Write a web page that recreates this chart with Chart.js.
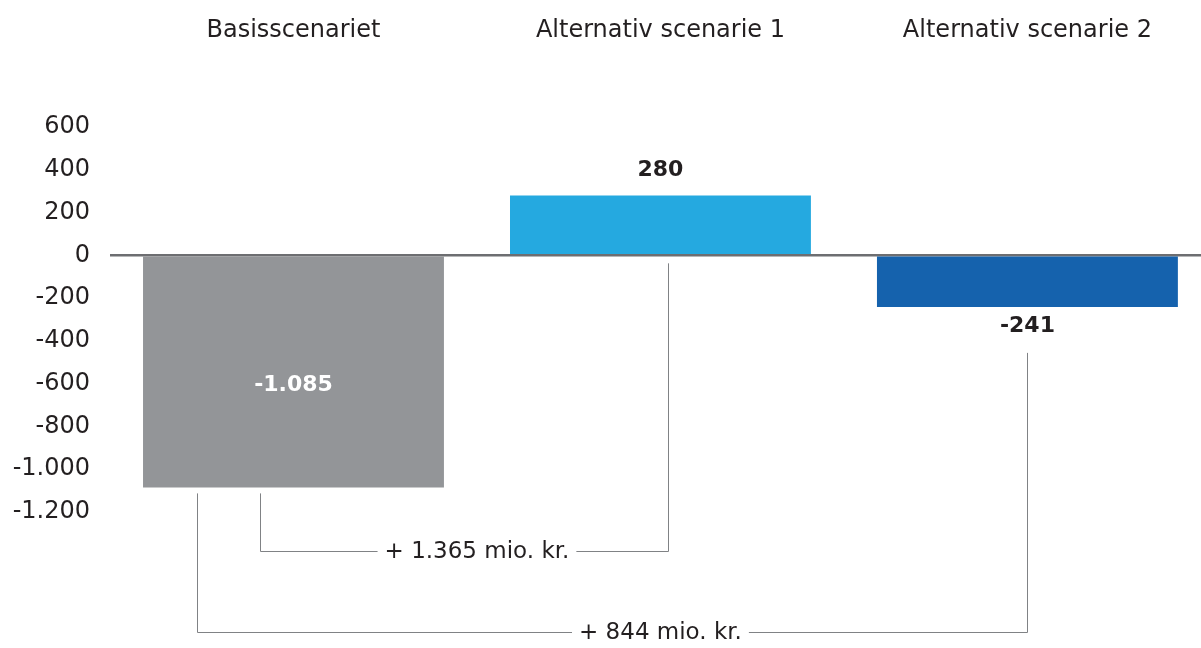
<!DOCTYPE html>
<html>
<head>
<meta charset="utf-8">
<script src="https://cdn.jsdelivr.net/npm/chart.js@4/dist/chart.umd.min.js"></script>
<style>
  html, body { margin: 0; padding: 0; background: #ffffff; overflow: hidden; }
  canvas { display: block; }
</style>
</head>
<body>
<canvas id="chart" width="1201" height="648"></canvas>
<script>
// Scenarios and their effect (mio. kr.)
const scenarios = ['Basisscenariet', 'Alternativ scenarie 1', 'Alternativ scenarie 2'];
const effects = [-1085, 280, -241];
const barColors = ['#939598', '#25a9e0', '#1562ad'];

// Y axis ticks
const yMin = -1200;
const yMax = 600;
const yStep = 200;

// Differences between scenarios shown as brackets under the bars
const bracketFrom = [0, 0];
const bracketTo = [1, 2];
const bracketValues = [1365, 844];

const TEXT = '#231f20';
const LINE = '#808285';

// Danish thousands separator
function fmt(v) {
  const s = Math.abs(v).toString().replace(/\B(?=(\d{3})+(?!\d))/g, '.');
  return (v < 0 ? '-' : '') + s;
}

// one point per scenario, placed at its index on a numeric x axis
const points = effects.map((v, i) => ({ x: i, y: v }));

const annotations = {
  id: 'annotations',
  afterDraw(chart) {
    const ctx = chart.ctx;
    const bars = chart.getDatasetMeta(0).data;
    const area = chart.chartArea;
    const zeroY = chart.scales.y.getPixelForValue(0);
    ctx.save();

    // value labels
    ctx.font = 'bold 22px "DejaVu Sans"';
    ctx.textAlign = 'center';
    ctx.textBaseline = 'middle';
    const labelBottom = [];
    bars.forEach((bar, i) => {
      const v = effects[i];
      const h = Math.abs(bar.base - bar.y);
      let ty, col = TEXT;
      if (h > 120) {
        ty = (bar.y + bar.base) / 2 + 13;
        col = '#ffffff';
      } else if (v >= 0) {
        ty = bar.y - 25;
      } else {
        ty = bar.y + 19;
      }
      labelBottom[i] = ty + 11;
      ctx.fillStyle = col;
      ctx.fillText(fmt(v), bar.x, ty);
    });

    // difference brackets
    const leftShift = [-33, -96];
    const rightShift = [8, 0];
    const levelY = [area.bottom + 39, area.bottom + 120];
    ctx.font = '23px "DejaVu Sans"';
    ctx.strokeStyle = LINE;
    ctx.lineWidth = 1;
    bracketValues.forEach((val, k) => {
      const a = bars[bracketFrom[k]];
      const b = bars[bracketTo[k]];
      const lx = Math.round(a.x + leftShift[k]) + 0.5;
      const rx = Math.round(b.x + rightShift[k]) + 0.5;
      const ly = Math.round(levelY[k]) + 0.5;
      const aBottom = Math.max(a.y, a.base) + 6;
      const rTop = effects[bracketTo[k]] >= 0 ? zeroY + 8 : labelBottom[bracketTo[k]] + 16;
      const text = '+ ' + fmt(val) + ' mio. kr.';
      const cx = (a.x + b.x) / 2;
      const tw = ctx.measureText(text).width;
      const gap = 7;

      ctx.beginPath();
      ctx.moveTo(lx, aBottom);
      ctx.lineTo(lx, ly);
      ctx.lineTo(cx - tw / 2 - gap, ly);
      ctx.moveTo(cx + tw / 2 + gap, ly);
      ctx.lineTo(rx, ly);
      ctx.lineTo(rx, rTop);
      ctx.stroke();

      ctx.fillStyle = TEXT;
      ctx.fillText(text, cx, ly + 1);
    });
    ctx.restore();
  }
};

new Chart(document.getElementById('chart'), {
  type: 'bar',
  data: {
    datasets: [{
      data: points,
      backgroundColor: barColors,
      borderWidth: 0,
      categoryPercentage: 1,
      barPercentage: 0.82
    }]
  },
  options: {
    responsive: false,
    devicePixelRatio: 1,
    animation: false,
    layout: { padding: { left: 0, top: 0, right: 0, bottom: 136 } },
    plugins: {
      legend: { display: false },
      tooltip: { enabled: false }
    },
    scales: {
      x: {
        type: 'linear',
        position: 'top',
        offset: false,
        min: -0.5,
        max: 2.473,
        grid: { display: false, drawTicks: false, offset: false },
        border: { display: false },
        afterBuildTicks(scale) {
          scale.ticks = scenarios.map((_, i) => ({ value: i }));
        },
        ticks: {
          color: TEXT,
          font: { family: 'DejaVu Sans', size: 24 },
          padding: 82,
          maxRotation: 0,
          autoSkip: false,
          callback: v => scenarios[v]
        },
        afterFit(scale) {
          scale.height = 127;
          scale.paddingLeft = 0;
          scale.paddingRight = 0;
        }
      },
      y: {
        min: yMin,
        max: yMax,
        z: 1,
        grid: {
          drawTicks: false,
          color: c => (c.tick && c.tick.value === 0 ? '#6d6e71' : 'rgba(0,0,0,0)'),
          lineWidth: 2.5
        },
        border: { display: false },
        ticks: {
          stepSize: yStep,
          color: TEXT,
          font: { family: 'DejaVu Sans', size: 24 },
          padding: 20,
          callback: v => fmt(v)
        },
        afterFit(scale) {
          scale.width = 110;
          scale.paddingTop = 0;
          scale.paddingBottom = 0;
        }
      }
    }
  },
  plugins: [annotations]
});
</script>
</body>
</html>
